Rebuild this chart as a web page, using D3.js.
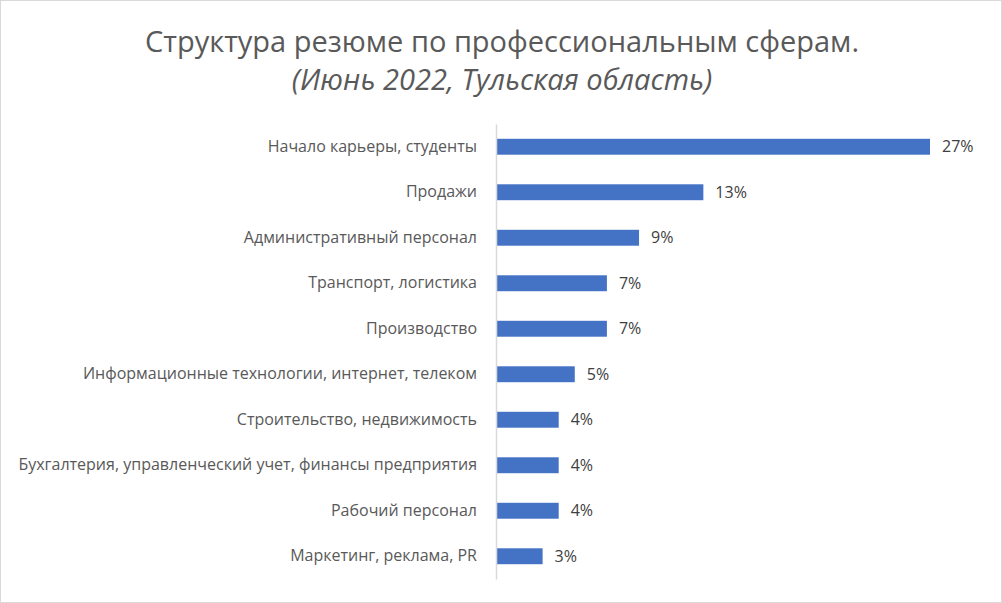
<!DOCTYPE html>
<html>
<head>
<meta charset="utf-8">
<script src="https://cdn.jsdelivr.net/npm/d3@7"></script>
<style>
  body { margin: 0; background: #fff; }
  svg { display: block; font-family: "Open Sans", "Noto Sans", sans-serif; }
</style>
</head>
<body>
<div id="chart"></div>
<script>
const categories = [
  'Начало карьеры, студенты',
  'Продажи',
  'Административный персонал',
  'Транспорт, логистика',
  'Производство',
  'Информационные технологии, интернет, телеком',
  'Строительство, недвижимость',
  'Бухгалтерия, управленческий учет, финансы предприятия',
  'Рабочий персонал',
  'Маркетинг, реклама, PR'
];
const shares = [27, 12.9, 8.9, 6.9, 6.9, 4.9, 3.9, 3.9, 3.9, 2.9];
const titleLines = ['Структура резюме по профессиональным сферам.', '(Июнь 2022, Тульская область)'];

const width = 1002;
const height = 603;
const margin = { top: 124, left: 496 };

const svg = d3.select('#chart')
  .append('svg')
  .attr('width', width)
  .attr('height', height);

svg.append('rect')
  .attr('x', 0.5).attr('y', 0.5)
  .attr('width', width - 1).attr('height', height - 1)
  .attr('fill', '#fff')
  .attr('stroke', '#d9d9d9');

// title
svg.append('text')
  .attr('x', 502).attr('y', 52)
  .attr('text-anchor', 'middle')
  .attr('fill', '#595959')
  .style('font-size', '29px')
  .text(titleLines[0]);
svg.append('text')
  .attr('x', 502).attr('y', 90)
  .attr('text-anchor', 'middle')
  .attr('fill', '#595959')
  .style('font-size', '29px')
  .style('font-style', 'italic')
  .text(titleLines[1]);

const data = categories.map((c, i) => ({ cat: c, val: shares[i] }));

const chart = svg.append('g')
  .attr('transform', `translate(${margin.left},${margin.top})`);

const chartHeight = 455;

const xScale = d3.scaleLinear()
  .domain([0, 27])
  .range([0, 434]);
const yScale = d3.scaleBand()
  .domain(categories)
  .range([0, chartHeight])
  .paddingInner(0.65)
  .paddingOuter(0.325);

chart.selectAll('.bar')
  .data(data)
  .enter()
  .append('rect')
  .classed('bar', true)
  .attr('x', 0)
  .attr('y', d => yScale(d.cat))
  .attr('width', d => xScale(d.val))
  .attr('height', yScale.bandwidth())
  .attr('fill', '#4472c4');

chart.selectAll('.bar-label')
  .data(data)
  .enter()
  .append('text')
  .classed('bar-label', true)
  .attr('x', d => xScale(d.val) + 12)
  .attr('y', d => yScale(d.cat) + yScale.bandwidth() / 2)
  .attr('dy', '0.35em')
  .attr('fill', '#404040')
  .style('font-size', '16px')
  .text(d => d3.format('.0f')(d.val) + '%');

const yAxis = d3.axisLeft(yScale).tickSize(0).tickPadding(19);
const gy = chart.append('g')
  .classed('y axis', true)
  .call(yAxis);
gy.select('.domain').attr('stroke', '#d9d9d9').attr('stroke-width', 1.5);
gy.selectAll('text')
  .attr('fill', '#595959')
  .style('font-size', '16px')
  .style('font-family', '"Open Sans", "Noto Sans", sans-serif');
</script>
</body>
</html>
